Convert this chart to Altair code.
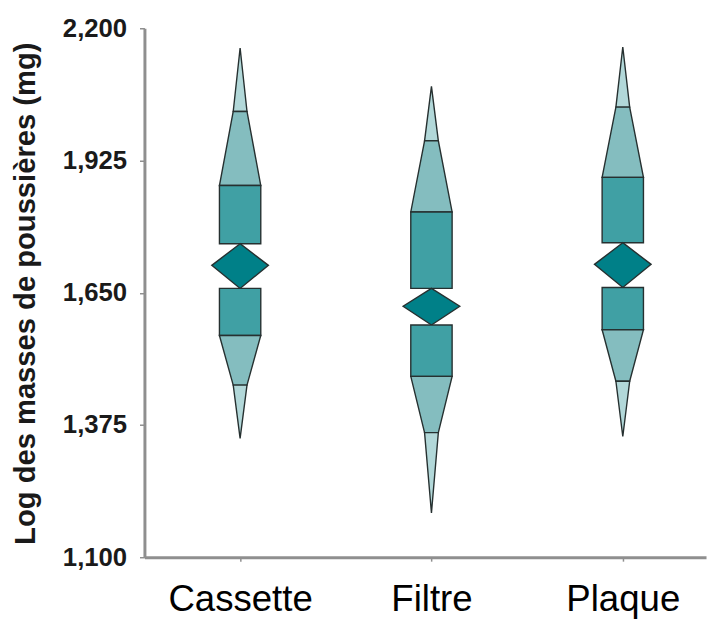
import altair as alt
import pandas as pd

# Categories
categories = ["Cassette", "Filtre", "Plaque"]

# Letter values (log dust mass) per category, top to bottom
tip_hi = [2.159, 2.079, 2.161]      # upper extreme
eighth_hi = [2.027, 1.966, 2.036]   # upper eighth
q3 = [1.873, 1.818, 1.890]          # upper quartile
med_hi = [1.752, 1.659, 1.754]      # top of median marker
median = [1.707, 1.622, 1.709]      # median
med_lo = [1.659, 1.583, 1.661]      # bottom of median marker
q1 = [1.561, 1.476, 1.573]          # lower quartile
eighth_lo = [1.458, 1.359, 1.466]   # lower eighth
tip_lo = [1.347, 1.192, 1.351]      # lower extreme

y_ticks = [1.1, 1.375, 1.65, 1.925, 2.2]

# half widths (style, in x-axis units)
W_BOX = 0.108
W_MID = 0.036
W_DIA = 0.148

rows = []
for i, cat in enumerate(categories):
    c = i + 1
    pieces = [
        ("tip", "u_tip", [(eighth_hi[i], W_MID), (tip_hi[i], 0.0)]),
        ("trap", "u_trap", [(q3[i], W_BOX), (eighth_hi[i], W_MID)]),
        ("box", "u_box", [(med_hi[i], W_BOX), (q3[i], W_BOX)]),
        ("diamond", "dia", [(med_lo[i], 0.0), (median[i], W_DIA), (med_hi[i], 0.0)]),
        ("box", "l_box", [(q1[i], W_BOX), (med_lo[i], W_BOX)]),
        ("trap", "l_trap", [(eighth_lo[i], W_MID), (q1[i], W_BOX)]),
        ("tip", "l_tip", [(tip_lo[i], 0.0), (eighth_lo[i], W_MID)]),
    ]
    for kind, pid, pts in pieces:
        for v, hw in pts:
            rows.append({
                "cat": cat, "piece": f"{cat}_{pid}", "kind": kind,
                "val": v, "left": c - hw, "right": c + hw,
            })

df = pd.DataFrame(rows)

label_expr = "[" + ",".join(f"'{c}'" for c in categories) + "][datum.value - 1]"

chart = alt.Chart(df).mark_area(
    orient="horizontal", stroke="#263030", strokeWidth=1.4, fillOpacity=1
).encode(
    y=alt.Y("val:Q", scale=alt.Scale(domain=[1.1, 2.2], nice=False, zero=False),
            axis=alt.Axis(values=y_ticks, title="Log des masses de poussières (mg)",
                          labelExpr="replace(format(datum.value, '.3f'), '.', ',')",
                          grid=False, domainColor="#8f8f8f", domainWidth=3,
                          tickColor="#8f8f8f", tickWidth=1.5, tickSize=5,
                          labelFont="Liberation Sans", labelFontSize=26, labelFontWeight="bold",
                          labelColor="#1a1a1a", labelPadding=13,
                          titleFont="Liberation Sans", titleFontSize=29.5, titleFontWeight="bold",
                          titleColor="#1a1a1a", titleX=-120, titleY=268, titleAngle=-90,
                          titleAlign="center", titleBaseline="middle")),
    x=alt.X("left:Q", stack=None, scale=alt.Scale(domain=[0.5, 3.435], nice=False, zero=False),
            axis=alt.Axis(values=[1, 2, 3], labelExpr=label_expr, title=None, grid=False,
                          domainColor="#8f8f8f", domainWidth=3, tickColor="#8f8f8f",
                          tickWidth=1.5, tickSize=4,
                          labelFont="Liberation Sans", labelFontSize=37, labelColor="#000000",
                          labelPadding=21)),
    x2="right:Q",
    detail="piece:N",
    color=alt.Color("kind:N", legend=None,
                    scale=alt.Scale(domain=["tip", "trap", "box", "diamond"],
                                    range=["#b2d8d9", "#84bdbf", "#40a0a4", "#008088"])),
).properties(
    width=568, height=535,
    autosize=alt.AutoSizeParams(type="none"),
    padding={"left": 138, "top": 17, "right": 2, "bottom": 60},
).configure_view(stroke=None)

chart.save("out.html", embed_options={"renderer": "svg", "actions": False})
